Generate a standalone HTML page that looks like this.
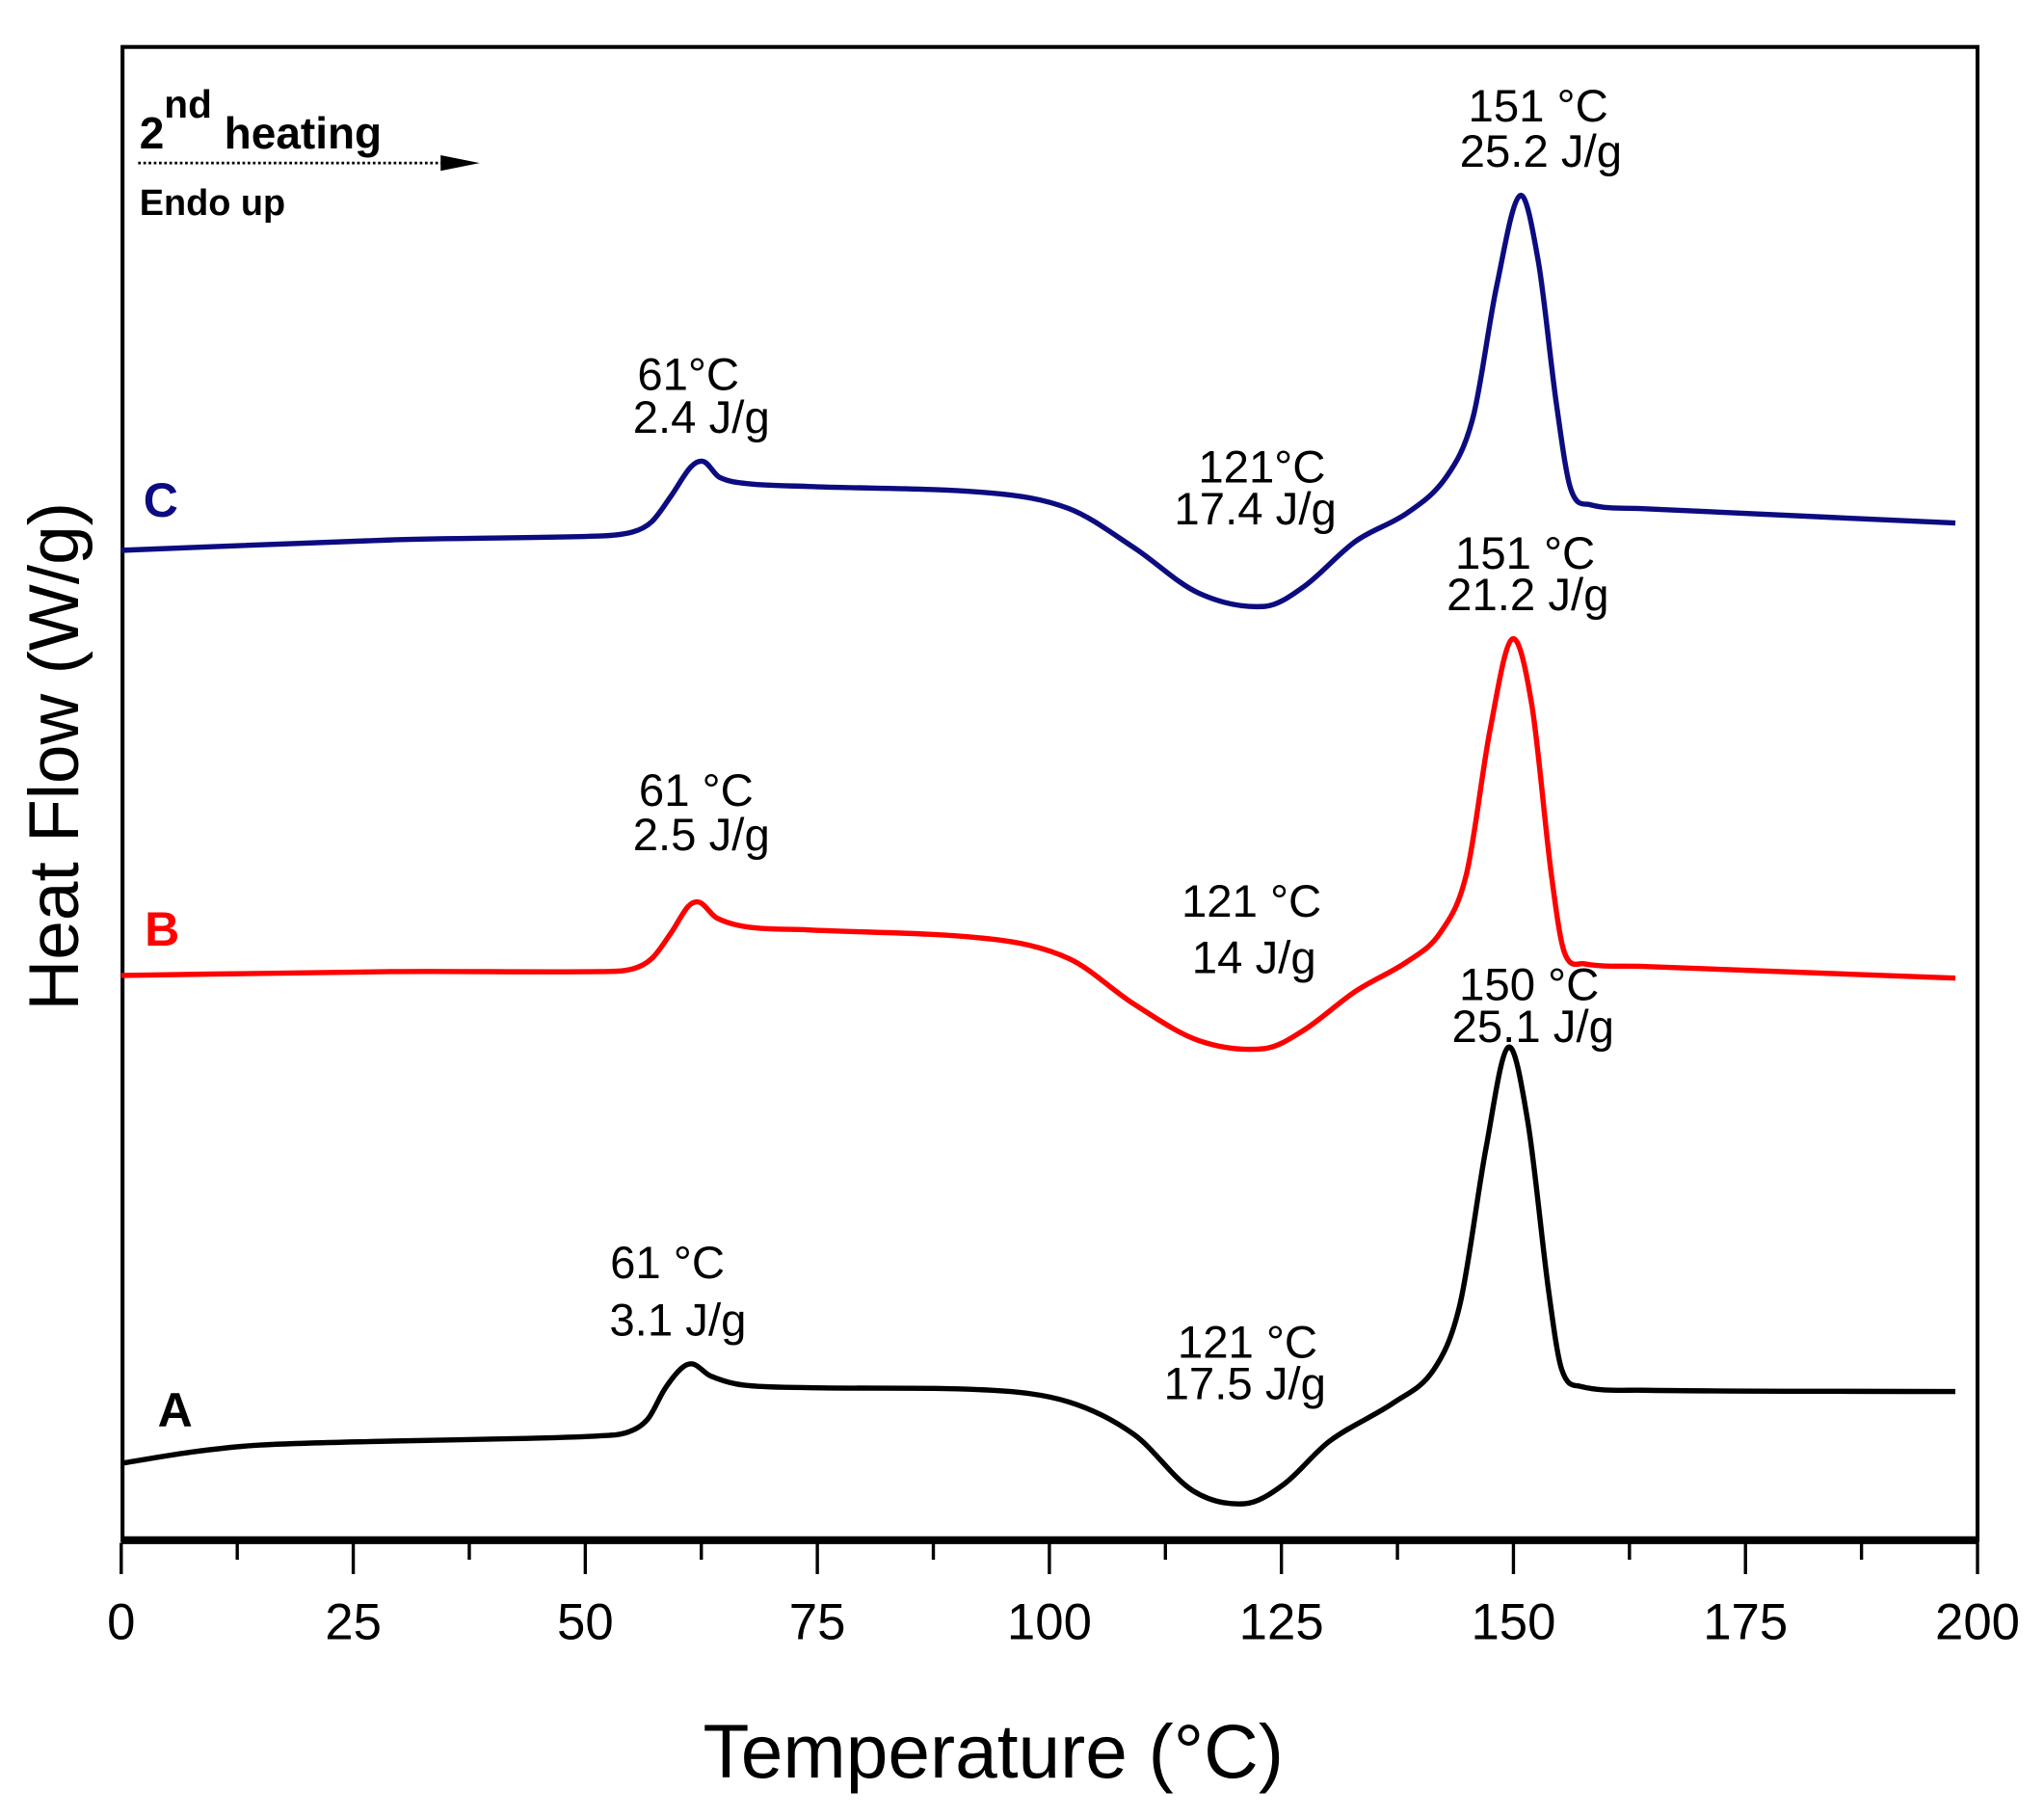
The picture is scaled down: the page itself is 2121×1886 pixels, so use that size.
<!DOCTYPE html>
<html><head><meta charset="utf-8"><style>
html,body{margin:0;padding:0;background:#fff;}
svg{display:block;}
text{font-family:"Liberation Sans",Arial,sans-serif;}
</style></head><body>
<svg id="s" width="2121" height="1886" viewBox="0 0 1568 1394" preserveAspectRatio="none" xmlns="http://www.w3.org/2000/svg">
<rect x="0" y="0" width="1568" height="1394" fill="#fff"/>
<rect x="94" y="36" width="1423" height="1145" fill="none" stroke="#000" stroke-width="3"/>
<line x1="93" y1="1181" x2="1518" y2="1181" stroke="#000" stroke-width="6"/>
<g id="ticks" stroke="#000" stroke-width="2.5"></g>
<g font-size="39" text-anchor="middle" fill="#000">
<text x="93" y="1257">0</text><text x="271" y="1257">25</text><text x="449" y="1257">50</text>
<text x="627" y="1257">75</text><text x="805" y="1257">100</text><text x="983" y="1257">125</text>
<text x="1161" y="1257">150</text><text x="1339" y="1257">175</text><text x="1517" y="1257">200</text>
</g>
<text x="762" y="1363" font-size="58" text-anchor="middle">Temperature (°C)</text>
<text transform="translate(60,580) rotate(-90)" font-size="54" text-anchor="middle">Heat Flow (W/g)</text>
<text x="107" y="114" font-size="34" font-weight="bold">2<tspan dy="-24" font-size="30">nd</tspan><tspan dy="24"> heating</tspan></text>
<line x1="106" y1="125" x2="340" y2="125" stroke="#000" stroke-width="2" stroke-dasharray="2,2"/>
<polygon points="338,119 368,125 338,131" fill="#000"/>
<text x="107" y="165" font-size="28" font-weight="bold">Endo up</text>
<g fill="none" stroke-width="4" stroke-linejoin="round">
<path id="pc" stroke="#0c0c80"/>
<path id="pb" stroke="#ff0000"/>
<path id="pa" stroke="#000"/>
</g>
<text x="110" y="396" font-size="37" font-weight="bold" fill="#0c0c80">C</text>
<text x="111" y="725" font-size="37" font-weight="bold" fill="#ff0000">B</text>
<text x="121" y="1094" font-size="37" font-weight="bold" fill="#000">A</text>
<g font-size="35" text-anchor="middle" fill="#000">
<text x="1180" y="93">151 °C</text><text x="1182" y="128">25.2 J/g</text>
<text x="528" y="299">61°C</text><text x="538" y="332">2.4 J/g</text>
<text x="968" y="370">121°C</text><text x="963" y="402">17.4 J/g</text>
<text x="1170" y="436">151 °C</text><text x="1172" y="468">21.2 J/g</text>
<text x="534" y="618">61 °C</text><text x="538" y="652">2.5 J/g</text>
<text x="960" y="703">121 °C</text><text x="962" y="746">14 J/g</text>
<text x="1173" y="767">150 °C</text><text x="1176" y="799">25.1 J/g</text>
<text x="512" y="980">61 °C</text><text x="520" y="1024">3.1 J/g</text>
<text x="957" y="1041">121 °C</text><text x="955" y="1073">17.5 J/g</text>
</g>
</svg>
<script>
var t=document.getElementById('ticks'),h='';
for(var i=0;i<=16;i++){var x=93+i*89;var L=(i%2==0)?24:13;h+='<line x1="'+x+'" y1="1183" x2="'+x+'" y2="'+(1183+L)+'"/>';}
t.innerHTML=h;
function cr(p){var n=p.length,m=[];
for(var i=0;i<n;i++){var a=p[Math.max(0,i-1)],b=p[Math.min(n-1,i+1)];m.push((b[1]-a[1])/(b[0]-a[0]));}
var d='M'+p[0][0]+','+p[0][1];
for(var i=0;i<n-1;i++){var dx=(p[i+1][0]-p[i][0])/3;
d+=' C'+(p[i][0]+dx)+','+(p[i][1]+m[i]*dx)+' '+(p[i+1][0]-dx)+','+(p[i+1][1]-m[i+1]*dx)+' '+p[i+1][0]+','+p[i+1][1];}return d;}
document.getElementById('pc').setAttribute('d',cr([[93,422],[300,414],[460,411],[485,408],[500,400],[515,380],[530,358],[540,354],[552,366],[575,371],[620,373],[760,378],[820,390],[870,420],[920,455],[970,465],[1000,450],[1040,415],[1080,393],[1110,365],[1130,320],[1148,220],[1166,150],[1180,200],[1194,310],[1205,375],[1220,387],[1260,390],[1500,401]]));
document.getElementById('pb').setAttribute('d',cr([[93,748],[300,745],[460,745],[485,743],[500,735],[515,715],[528,695],[537,692],[550,704],[575,711],[620,713],[760,720],[820,735],[870,770],[920,798],[970,804],[1000,790],[1040,760],[1080,737],[1105,715],[1125,670],[1143,560],[1160,490],[1175,540],[1190,670],[1200,730],[1215,739],[1260,741],[1500,750]]));
document.getElementById('pa').setAttribute('d',cr([[93,1122],[150,1113],[200,1108],[300,1105],[400,1103],[460,1101],[482,1098],[497,1088],[510,1065],[523,1049],[532,1046],[545,1055],[570,1062],[620,1064],[760,1066],[820,1075],[870,1100],[915,1143],[955,1153],[985,1138],[1020,1105],[1070,1075],[1100,1050],[1120,1000],[1140,880],[1157,803],[1172,860],[1188,990],[1198,1050],[1212,1063],[1260,1066],[1500,1067]]));
</script>
</body></html>
